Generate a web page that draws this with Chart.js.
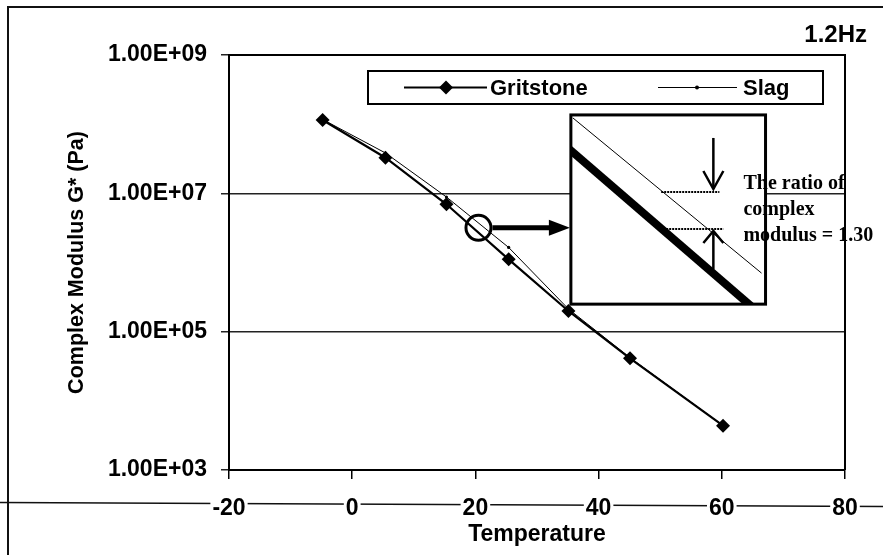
<!DOCTYPE html>
<html><head><meta charset="utf-8">
<script src="https://cdn.jsdelivr.net/npm/chart.js@4.4.1/dist/chart.umd.min.js"></script>
<style>html,body{margin:0;padding:0;background:#fff;}#wrap{width:883px;height:555px;position:relative;}</style>
</head><body><div id="wrap"><canvas id="c" width="883" height="555"></canvas></div>
<script>
const seriesNames = ['Gritstone', 'Slag'];
const temperature = [-4.8, 5.4, 15.3, 25.4, 35.1, 45.1, 60.2];
const gritstone = [1.15e8, 3.27e7, 6.95e6, 1.11e6, 1.99e5, 4.12e4, 4.37e3];
const slag = [1.17e8, 3.83e7, 8.85e6, 1.65e6, 2.13e5, 4.2e4, 4.4e3];
const xTicks = [-20, 0, 20, 40, 60, 80];
const xTickLabels = ['-20', '0', '20', '40', '60', '80'];
const yTicks = [1e3, 1e5, 1e7, 1e9];
const yTickLabels = ['1.00E+03', '1.00E+05', '1.00E+07', '1.00E+09'];
const xTitle = 'Temperature';
const yTitle = 'Complex Modulus G* (Pa)';
const freqLabel = '1.2Hz';
const ratioText = ['The ratio of', 'complex', 'modulus = 1.30'];
const circledTemperature = 20.5;

const SANS = '"Liberation Sans", Arial, sans-serif';
const SERIF = '"Liberation Serif", "Times New Roman", serif';

function logInterp(xArr, yArr, x) {
  for (let i = 0; i < xArr.length - 1; i++) {
    if (x >= xArr[i] && x <= xArr[i + 1]) {
      const f = (x - xArr[i]) / (xArr[i + 1] - xArr[i]);
      return Math.pow(10, Math.log10(yArr[i]) + f * (Math.log10(yArr[i + 1]) - Math.log10(yArr[i])));
    }
  }
  return yArr[0];
}

const deco = {
  id: 'deco',
  beforeDraw(chart) {
    const ctx = chart.ctx;
    ctx.save();
    ctx.fillStyle = '#fff';
    ctx.fillRect(0, 0, chart.width, chart.height);
    ctx.strokeStyle = '#111';
    ctx.lineWidth = 2;
    ctx.beginPath(); ctx.moveTo(8, chart.height); ctx.lineTo(8, 7); ctx.lineTo(chart.width, 7); ctx.stroke();
    ctx.lineWidth = 1.5;
    ctx.beginPath(); ctx.moveTo(0, 502.5); ctx.lineTo(chart.width, 506.5); ctx.stroke();
    ctx.restore();
  },
  afterDatasetsDraw(chart) {
    const ctx = chart.ctx;
    const a = chart.chartArea;
    const xs = chart.scales.x, ys = chart.scales.y;
    ctx.save();
    ctx.strokeStyle = '#000';
    ctx.lineWidth = 2;
    ctx.beginPath(); ctx.moveTo(a.left, a.top); ctx.lineTo(a.right, a.top); ctx.lineTo(a.right, a.bottom); ctx.stroke();

    // legend
    const lx0 = a.left + 139, ly0 = a.top + 16, lx1 = a.left + 594, ly1 = a.top + 49;
    ctx.fillStyle = '#fff';
    ctx.fillRect(lx0, ly0, lx1 - lx0, ly1 - ly0);
    ctx.strokeStyle = '#000'; ctx.lineWidth = 2;
    ctx.strokeRect(lx0, ly0, lx1 - lx0, ly1 - ly0);
    const ly = (ly0 + ly1) / 2;
    ctx.lineWidth = 2.2;
    ctx.beginPath(); ctx.moveTo(lx0 + 36, ly); ctx.lineTo(lx0 + 119, ly); ctx.stroke();
    ctx.fillStyle = '#000';
    ctx.beginPath();
    const dx = lx0 + 78;
    ctx.moveTo(dx, ly - 7); ctx.lineTo(dx + 7, ly); ctx.lineTo(dx, ly + 7); ctx.lineTo(dx - 7, ly); ctx.closePath(); ctx.fill();
    ctx.font = 'bold 22px ' + SANS;
    ctx.textBaseline = 'middle'; ctx.textAlign = 'left';
    ctx.fillText(seriesNames[0], lx0 + 122, ly + 1);
    ctx.lineWidth = 1;
    ctx.beginPath(); ctx.moveTo(lx0 + 290, ly); ctx.lineTo(lx0 + 369, ly); ctx.stroke();
    ctx.beginPath(); ctx.arc(lx0 + 329, ly, 2, 0, Math.PI * 2); ctx.fill();
    ctx.fillText(seriesNames[1], lx0 + 375, ly + 1);

    // frequency label
    ctx.font = 'bold 24px ' + SANS;
    ctx.textAlign = 'right';
    ctx.fillText(freqLabel, 867, 35);

    // circled region
    const cy = Math.sqrt(logInterp(temperature, gritstone, circledTemperature) * logInterp(temperature, slag, circledTemperature));
    const cxp = xs.getPixelForValue(circledTemperature), cyp = ys.getPixelForValue(cy);
    ctx.lineWidth = 3;
    ctx.beginPath(); ctx.arc(cxp, cyp, 12.5, 0, Math.PI * 2); ctx.stroke();

    // inset box
    const bx0 = xs.getPixelForValue(35.5), bx1 = xs.getPixelForValue(67.1);
    const by0 = ys.getPixelForValue(1.36e8), by1 = ys.getPixelForValue(2.5e5);
    const W = bx1 - bx0, H = by1 - by0;
    const P = (rx, ry) => [bx0 + rx * W / 194, by0 + ry * H / 189];

    // arrow from circle to inset
    ctx.lineWidth = 5;
    ctx.beginPath(); ctx.moveTo(cxp + 14, cyp); ctx.lineTo(bx0 - 18, cyp); ctx.stroke();
    ctx.beginPath(); ctx.moveTo(bx0 - 22, cyp - 8); ctx.lineTo(bx0 - 1, cyp); ctx.lineTo(bx0 - 22, cyp + 8); ctx.closePath(); ctx.fill();

    ctx.fillStyle = '#fff';
    ctx.fillRect(bx0, by0, W, H);
    ctx.save();
    ctx.beginPath(); ctx.rect(bx0, by0, W, H); ctx.clip();
    ctx.strokeStyle = '#000';
    ctx.lineWidth = 1;
    let p1 = P(2, 3), p2 = P(190, 158);
    ctx.beginPath(); ctx.moveTo(p1[0], p1[1]); ctx.lineTo(p2[0], p2[1]); ctx.stroke();
    ctx.lineWidth = 8;
    p1 = P(-4, 32); p2 = P(182, 193);
    ctx.beginPath(); ctx.moveTo(p1[0], p1[1]); ctx.lineTo(p2[0], p2[1]); ctx.stroke();
    ctx.restore();
    ctx.strokeStyle = '#000';
    ctx.lineWidth = 3;
    ctx.strokeRect(bx0, by0, W, H);

    // dotted marks
    ctx.lineWidth = 2;
    ctx.setLineDash([2, 1]);
    p1 = P(90, 77); p2 = P(148, 77);
    ctx.beginPath(); ctx.moveTo(p1[0], p1[1]); ctx.lineTo(p2[0], p2[1]); ctx.stroke();
    p1 = P(92, 114); p2 = P(152, 114);
    ctx.beginPath(); ctx.moveTo(p1[0], p1[1]); ctx.lineTo(p2[0], p2[1]); ctx.stroke();
    ctx.setLineDash([]);
    // arrows
    ctx.lineWidth = 2.5;
    p1 = P(142, 23); p2 = P(142, 74);
    ctx.beginPath(); ctx.moveTo(p1[0], p1[1]); ctx.lineTo(p2[0], p2[1]); ctx.stroke();
    ctx.beginPath(); ctx.moveTo(p2[0] - 10, p2[1] - 18); ctx.lineTo(p2[0], p2[1]); ctx.lineTo(p2[0] + 10, p2[1] - 18); ctx.stroke();
    p1 = P(142, 154); p2 = P(142, 116);
    ctx.beginPath(); ctx.moveTo(p1[0], p1[1]); ctx.lineTo(p2[0], p2[1]); ctx.stroke();
    ctx.beginPath(); ctx.moveTo(p2[0] - 10, p2[1] + 12); ctx.lineTo(p2[0], p2[1]); ctx.lineTo(p2[0] + 10, p2[1] + 12); ctx.stroke();

    // ratio text
    ctx.fillStyle = '#000';
    ctx.font = 'bold 20px ' + SERIF;
    ctx.textAlign = 'left'; ctx.textBaseline = 'middle';
    const t0 = P(172, 69), t1 = P(172, 95), t2 = P(172, 121);
    ctx.fillText(ratioText[0], t0[0], t0[1]);
    ctx.fillText(ratioText[1], t1[0], t1[1]);
    ctx.fillText(ratioText[2], t2[0], t2[1]);
    ctx.restore();
  }
};

new Chart(document.getElementById('c'), {
  type: 'line',
  data: {
    datasets: [
      {
        label: seriesNames[0],
        data: temperature.map((t, i) => ({ x: t, y: gritstone[i] })),
        borderColor: '#000', backgroundColor: '#000', borderWidth: 2.2,
        pointStyle: 'rectRot', pointRadius: 7, pointBackgroundColor: '#000', pointBorderColor: '#000', pointBorderWidth: 0,
        tension: 0, order: 2
      },
      {
        label: seriesNames[1],
        data: temperature.map((t, i) => ({ x: t, y: slag[i] })),
        borderColor: '#000', backgroundColor: '#000', borderWidth: 1,
        pointStyle: 'circle', pointRadius: 1.6, pointBackgroundColor: '#000', pointBorderWidth: 0,
        tension: 0, order: 1
      }
    ]
  },
  options: {
    responsive: false,
    animation: false,
    layout: { padding: { top: 55, right: 38, bottom: 0, left: 0 } },
    plugins: { legend: { display: false }, tooltip: { enabled: false } },
    scales: {
      x: {
        type: 'linear', min: -20, max: 80,
        afterBuildTicks: s => { s.ticks = xTicks.map(v => ({ value: v })); },
        afterFit: s => { s.height = 85; },
        grid: { drawOnChartArea: false, drawTicks: true, tickLength: 9, color: '#000', lineWidth: 1.5 },
        border: { display: true, color: '#000', width: 2 },
        ticks: {
          color: '#000', font: { family: SANS, size: 23, weight: 'bold' }, padding: 16,
          maxRotation: 0, autoSkip: false,
          showLabelBackdrop: true, backdropColor: '#fff', backdropPadding: { top: 0, bottom: 0, left: 2, right: 2 },
          callback: (v, i) => xTickLabels[i]
        },
        title: { display: true, text: xTitle, color: '#000', font: { family: SANS, size: 23, weight: 'bold' }, padding: { top: 0, bottom: 7 } }
      },
      y: {
        type: 'logarithmic', min: 1e3, max: 1e9,
        afterBuildTicks: s => { s.ticks = yTicks.map(v => ({ value: v })); },
        afterFit: s => { s.width = 229; },
        grid: { drawOnChartArea: true, drawTicks: true, tickLength: 8, color: '#222', lineWidth: 1.5 },
        border: { display: true, color: '#000', width: 2 },
        ticks: {
          color: '#000', font: { family: SANS, size: 23, weight: 'bold' }, padding: 14, autoSkip: false,
          callback: (v, i) => yTickLabels[i]
        },
        title: { display: true, text: yTitle, color: '#000', font: { family: SANS, size: 21.5, weight: 'bold' }, padding: { top: 64, bottom: 0 } }
      }
    }
  },
  plugins: [deco]
});
</script>
</body></html>
